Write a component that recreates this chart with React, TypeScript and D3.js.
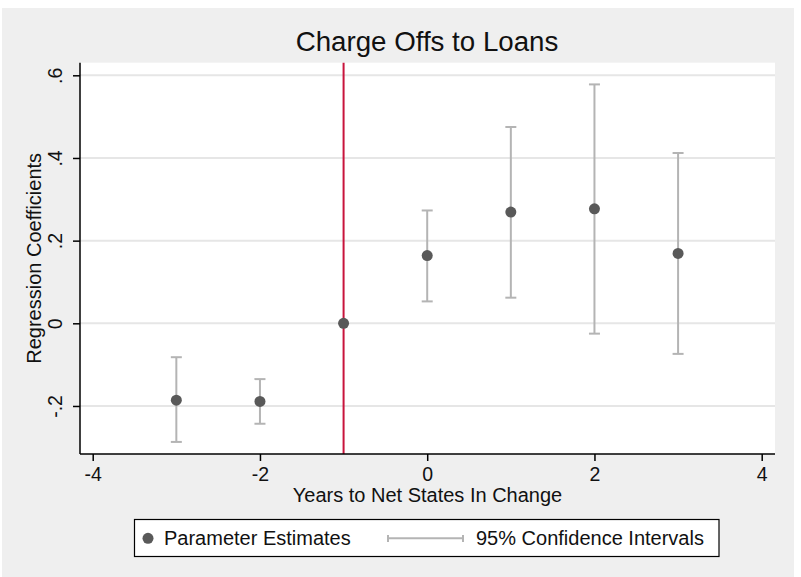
import React, { useEffect, useRef } from "react"
import * as d3 from "d3"

// event-study estimates, years relative to the change
const years = [-3, -2, -1, 0, 1, 2, 3]
const estimates = [-0.186, -0.189, 0, 0.164, 0.269, 0.277, 0.169]
const ciLower: (number | null)[] = [-0.287, -0.243, null, 0.053, 0.062, -0.025, -0.074]
const ciUpper: (number | null)[] = [-0.082, -0.135, null, 0.273, 0.475, 0.578, 0.412]
const xTicks = [-4, -2, 0, 2, 4]
const yTicks = [-0.2, 0, 0.2, 0.4, 0.6]
const eventYear = -1

const W = 801
const H = 577
const FONT = "'Liberation Sans', Arial, sans-serif"

// Stata style: ".6", "-.2", "0"
const stataNum = (v: number) => {
	if (v === 0) return "0"
	const s = String(Math.abs(v)).replace(/^0\./, ".")
	return (v < 0 ? "-" : "") + s
}

const App = () => {
	const ref = useRef<SVGSVGElement>(null)

	useEffect(() => {
		document.body.style.margin = "0"
		const svg = d3.select(ref.current)
		svg.selectAll("*").remove()

		const left = 80
		const right = 775
		const top = 62.7
		const bottom = 454

		const x = d3.scaleLinear().domain([-4.152, 4.159]).range([left, right])
		const y = d3.scaleLinear().domain([-0.3162, 0.6305]).range([bottom, top])

		// outer background
		svg.append("rect").attr("x", 2).attr("y", 8).attr("width", 792).attr("height", H - 8).attr("fill", "#efefef")
		// plot region
		svg
			.append("rect")
			.attr("x", left)
			.attr("y", top)
			.attr("width", right - left)
			.attr("height", bottom - top)
			.attr("fill", "#fff")

		// gridlines
		svg
			.append("g")
			.selectAll("line")
			.data(yTicks)
			.join("line")
			.attr("x1", left)
			.attr("x2", right)
			.attr("y1", d => y(d))
			.attr("y2", d => y(d))
			.attr("stroke", "#e6e6e6")
			.attr("stroke-width", 2)

		// title
		svg
			.append("text")
			.attr("x", 427)
			.attr("y", 51)
			.attr("text-anchor", "middle")
			.style("font-family", FONT)
			.style("font-size", "27.7px")
			.attr("fill", "#111")
			.text("Charge Offs to Loans")

		// event line
		svg
			.append("line")
			.attr("x1", x(eventYear))
			.attr("x2", x(eventYear))
			.attr("y1", top)
			.attr("y2", bottom)
			.attr("stroke", "#c8143c")
			.attr("stroke-width", 2)

		// confidence intervals
		const ci = years
			.map((yr, i) => ({ yr, lo: ciLower[i], hi: ciUpper[i] }))
			.filter(d => d.lo !== null && d.hi !== null) as { yr: number; lo: number; hi: number }[]
		const ciG = svg.append("g").attr("stroke", "#b4b4b4").attr("stroke-width", 2)
		ciG
			.selectAll("line.v")
			.data(ci)
			.join("line")
			.attr("class", "v")
			.attr("x1", d => x(d.yr))
			.attr("x2", d => x(d.yr))
			.attr("y1", d => y(d.lo))
			.attr("y2", d => y(d.hi))
		ciG
			.selectAll("line.cap-hi")
			.data(ci)
			.join("line")
			.attr("class", "cap-hi")
			.attr("x1", d => x(d.yr) - 5.5)
			.attr("x2", d => x(d.yr) + 5.5)
			.attr("y1", d => y(d.hi))
			.attr("y2", d => y(d.hi))
		ciG
			.selectAll("line.cap-lo")
			.data(ci)
			.join("line")
			.attr("class", "cap-lo")
			.attr("x1", d => x(d.yr) - 5.5)
			.attr("x2", d => x(d.yr) + 5.5)
			.attr("y1", d => y(d.lo))
			.attr("y2", d => y(d.lo))

		// point estimates
		svg
			.append("g")
			.selectAll("circle")
			.data(years)
			.join("circle")
			.attr("cx", d => x(d))
			.attr("cy", (_, i) => y(estimates[i]))
			.attr("r", 5.5)
			.attr("fill", "#595959")

		// y axis
		const yAxis = svg
			.append("g")
			.attr("transform", `translate(${left},0)`)
			.call(d3.axisLeft(y).tickValues(yTicks).tickSize(7).tickFormat(d => stataNum(+d)))
		yAxis.select(".domain").attr("d", `M0,${top}V${bottom}`).attr("stroke", "#000").attr("stroke-width", 1.5)
		yAxis.selectAll(".tick line").attr("stroke", "#000").attr("stroke-width", 1.5)
		yAxis
			.selectAll(".tick text")
			.attr("x", null)
			.attr("dy", null)
			.attr("transform", "rotate(-90) translate(0,-18)")
			.attr("text-anchor", "middle")
			.style("font-family", FONT)
			.style("font-size", "19.5px")
			.attr("fill", "#111")

		// x axis
		const xAxis = svg
			.append("g")
			.attr("transform", `translate(0,${bottom})`)
			.call(d3.axisBottom(x).tickValues(xTicks).tickSize(7).tickFormat(d => stataNum(+d)))
		xAxis.select(".domain").attr("d", `M${left},0H${right}`).attr("stroke", "#000").attr("stroke-width", 1.5)
		xAxis.selectAll(".tick line").attr("stroke", "#000").attr("stroke-width", 1.5)
		xAxis
			.selectAll(".tick text")
			.attr("y", 27)
			.attr("dy", null)
			.style("font-family", FONT)
			.style("font-size", "19.5px")
			.attr("fill", "#111")

		// axis titles
		svg
			.append("text")
			.attr("x", (left + right) / 2)
			.attr("y", 502)
			.attr("text-anchor", "middle")
			.style("font-family", FONT)
			.style("font-size", "20px")
			.attr("fill", "#111")
			.text("Years to Net States In Change")
		svg
			.append("text")
			.attr("transform", `translate(41,${(top + bottom) / 2}) rotate(-90)`)
			.attr("text-anchor", "middle")
			.style("font-family", FONT)
			.style("font-size", "20px")
			.attr("fill", "#111")
			.text("Regression Coefficients")

		// legend
		const lg = svg.append("g")
		lg.append("rect")
			.attr("x", 134.5)
			.attr("y", 519.5)
			.attr("width", 584.5)
			.attr("height", 37)
			.attr("fill", "#fff")
			.attr("stroke", "#000")
			.attr("stroke-width", 1.2)
		lg.append("circle").attr("cx", 148).attr("cy", 538.3).attr("r", 5.5).attr("fill", "#595959")
		lg.append("text")
			.attr("x", 164)
			.attr("y", 545)
			.style("font-family", FONT)
			.style("font-size", "20px")
			.attr("fill", "#111")
			.text("Parameter Estimates")
		const lc = lg.append("g").attr("stroke", "#b4b4b4").attr("stroke-width", 2)
		lc.append("line").attr("x1", 388).attr("x2", 463).attr("y1", 538.3).attr("y2", 538.3)
		lc.append("line").attr("x1", 388).attr("x2", 388).attr("y1", 535).attr("y2", 542)
		lc.append("line").attr("x1", 463).attr("x2", 463).attr("y1", 535).attr("y2", 542)
		lg.append("text")
			.attr("x", 476)
			.attr("y", 545)
			.style("font-family", FONT)
			.style("font-size", "20px")
			.attr("fill", "#111")
			.text("95% Confidence Intervals")
	}, [])

	return <svg ref={ref} width={W} height={H} style={{ display: "block" }}></svg>
}

export default App
